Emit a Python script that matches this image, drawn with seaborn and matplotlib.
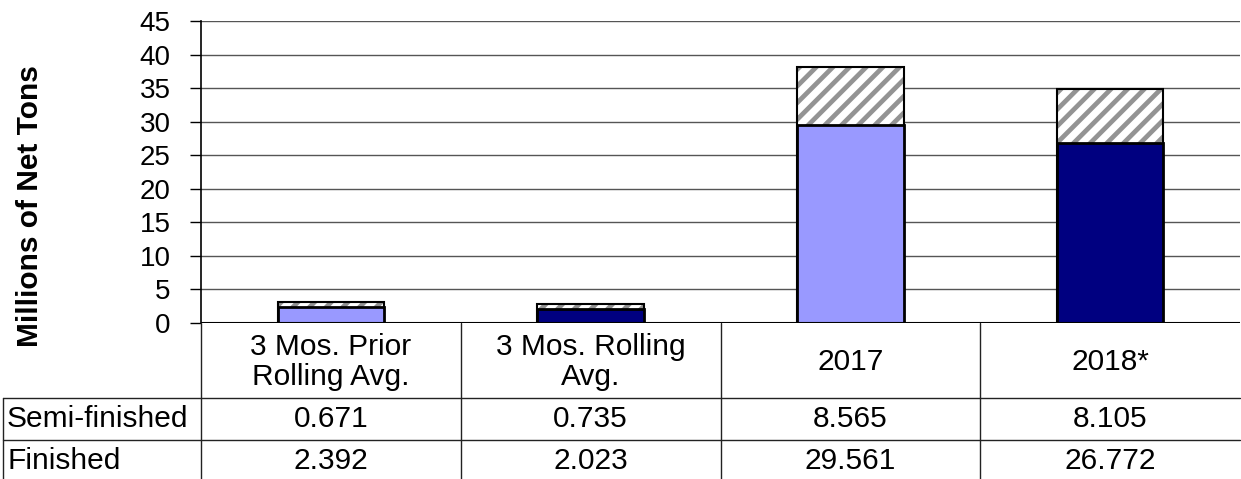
import matplotlib
matplotlib.use("Agg")
import matplotlib.pyplot as plt
import seaborn as sns
import pandas as pd
import numpy as np

categories = ["3 Mos. Prior\nRolling Avg.", "3 Mos. Rolling\nAvg.", "2017", "2018*"]
semi_finished = [0.671, 0.735, 8.565, 8.105]
finished = [2.392, 2.023, 29.561, 26.772]
row_labels = ["Semi-finished", "Finished"]
y_ticks = [0, 5, 10, 15, 20, 25, 30, 35, 40, 45]
finished_colors = ["#9999FF", "#000080", "#9999FF", "#000080"]

sns.set_theme(style="white")
plt.rcParams['font.family'] = ['Liberation Sans', 'DejaVu Sans']
plt.rcParams['hatch.linewidth'] = 3.4
plt.rcParams['text.color'] = 'black'
plt.rcParams['ytick.color'] = 'black'
plt.rcParams['ytick.labelcolor'] = 'black'

W, H = 1241, 479
fig = plt.figure(figsize=(W / 100, H / 100), dpi=100)

x0, x1 = 201, 1240
ytop, ybot = 21, 323
ax = fig.add_axes([x0 / W, (H - ybot) / H, (x1 - x0) / W, (ybot - ytop) / H])

df = pd.DataFrame({
    "cat": categories,
    "total": [s + f for s, f in zip(semi_finished, finished)],
    "finished": finished,
})

BW = 0.41
sns.barplot(data=df, x="cat", y="total", color="white", saturation=1, ax=ax, width=BW,
            edgecolor="#939393", linewidth=0, hatch="//")
sns.barplot(data=df, x="cat", y="total", ax=ax, width=BW, facecolor="none",
            edgecolor="black", linewidth=1.5)
sns.barplot(data=df, x="cat", y="finished", hue="cat", palette=finished_colors,
            saturation=1, legend=False, ax=ax, width=BW, edgecolor="black", linewidth=2)

ax.set_xlim(-0.5, 3.5)
ax.set_ylim(0, 45)
ax.set_yticks(y_ticks)
ax.set_yticklabels([str(t) for t in y_ticks], fontsize=20, color="black")
ax.set_xticks([])
ax.set_xlabel("")
ax.set_ylabel("")
ax.yaxis.grid(True, color="#555555", linewidth=1)
ax.set_axisbelow(True)
for s in ["top", "right", "bottom"]:
    ax.spines[s].set_visible(False)
ax.spines["left"].set_color("black")
ax.spines["left"].set_linewidth(1.2)
ax.axhline(0, color="black", linewidth=1.5, zorder=1)
ax.tick_params(axis="y", left=True, length=8, width=1, color="black", pad=14)

fig.text(30 / W, 1 - 206 / H, "Millions of Net Tons", rotation=90, fontsize=21.5,
         fontweight="bold", ha="center", va="center", color="black")

def fx(px):
    return px / W

def fy(py):
    return 1 - py / H

col_edges = [x0 + (x1 - x0) * i / 4 for i in range(5)]
row_top = ybot
row_h1 = 398
row_h2 = 440
row_bottom = 479
lc = "#222222"
lw = 1.0
for xe in col_edges[:-1]:
    fig.add_artist(plt.Line2D([fx(xe), fx(xe)], [fy(row_top), fy(row_bottom)], color=lc, lw=lw))
fig.add_artist(plt.Line2D([fx(3), fx(3)], [fy(row_h1), fy(row_bottom)], color=lc, lw=lw))
fig.add_artist(plt.Line2D([fx(3), fx(x1)], [fy(row_h1), fy(row_h1)], color=lc, lw=lw))
fig.add_artist(plt.Line2D([fx(3), fx(x1)], [fy(row_h2), fy(row_h2)], color=lc, lw=lw))

FS = 21.5
for i, cat in enumerate(categories):
    cx = (col_edges[i] + col_edges[i + 1]) / 2
    fig.text(fx(cx), fy(362), cat, ha="center", va="center",
             fontsize=FS, linespacing=1.05, color="black")
    fig.text(fx(cx), fy(419), f"{semi_finished[i]:.3f}",
             ha="center", va="center", fontsize=FS, color="black")
    fig.text(fx(cx), fy(461), f"{finished[i]:.3f}",
             ha="center", va="center", fontsize=FS, color="black")

fig.text(fx(7), fy(419), row_labels[0], ha="left", va="center", fontsize=FS, color="black")
fig.text(fx(7), fy(461), row_labels[1], ha="left", va="center", fontsize=FS, color="black")

fig.savefig("out.png", dpi=100)
